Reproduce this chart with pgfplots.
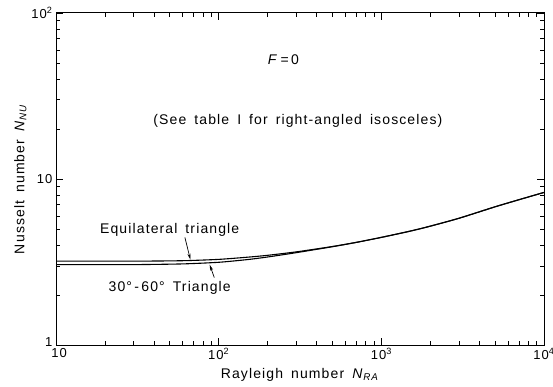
\documentclass[border=0pt]{standalone}
\usepackage{fontspec}
\setmainfont{Liberation Sans}[LetterSpace=8, WordSpace=1.6]
\usepackage{pgfplots}
\pgfplotsset{compat=1.18}
\usetikzlibrary{arrows.meta}

\pgfplotstableread{
ra nu
10 3.20
30 3.20
60 3.22
100 3.28
150 3.38
200 3.47
300 3.64
500 3.92
700 4.15
1000 4.45
1500 4.85
2000 5.20
3000 5.80
5000 6.80
7000 7.50
10000 8.30
}\equilateral

\pgfplotstableread{
ra nu
10 3.05
30 3.05
60 3.08
100 3.15
150 3.27
200 3.39
300 3.60
500 3.91
700 4.15
1000 4.45
1500 4.85
2000 5.20
3000 5.80
5000 6.80
7000 7.50
10000 8.30
}\thirtysixty

\begin{document}
\begin{tikzpicture}[font=\fontsize{14}{16}\selectfont]
\begin{axis}[
  name=ax,
  xmode=log, ymode=log,
  scale only axis,
  width=488pt, height=332pt,
  xmin=10, xmax=10000, ymin=1, ymax=100,
  xtick={10,100,1000,10000},
  xticklabels={\hspace{6pt}10,10\textsuperscript{2},10\textsuperscript{3},10\textsuperscript{4}},
  ytick={1,10,100},
  yticklabels={\raisebox{6pt}{1},10,10\textsuperscript{2}},
  tick label style={font=\fontsize{13}{15}\selectfont},
  label style={font=\fontsize{14}{16}\selectfont},
  tick style={black, line width=0.6pt},
  major tick length=7pt,
  minor tick length=4pt,
  axis line style={line width=1pt},
  xlabel={Rayleigh number \textit{N}\textsubscript{\textit{RA}}},
  ylabel={Nusselt number \textit{N}\textsubscript{\textit{NU}}},
  xlabel style={yshift=-2pt},
  ylabel style={yshift=-2pt},
]
\addplot[black, line width=1.1pt, smooth, tension=0.4] table[x=ra, y=nu] {\equilateral};
\addplot[black, line width=1.1pt, smooth, tension=0.4] table[x=ra, y=nu] {\thirtysixty};

\node at (axis cs:250,52) {\textit{F}\,=\,0};
\node at (axis cs:307,22.3) {(See table I for right-angled isosceles)};
\node at (axis cs:50,4.93) {Equilateral triangle};
\draw[line width=0.7pt, -{Stealth[length=6pt,width=3pt]}] (axis cs:62,4.45) -- (axis cs:67,3.27);
\node at (axis cs:50,2.2) {30°\,-\,60° Triangle};
\draw[line width=0.7pt, -{Stealth[length=6pt,width=3pt]}] (axis cs:94,2.55) -- (axis cs:88,3.05);
\end{axis}
\pgfresetboundingbox
\path ([shift={(-56pt,-41pt)}]ax.south west) rectangle ([shift={(9pt,13pt)}]ax.north east);
\end{tikzpicture}
\end{document}
